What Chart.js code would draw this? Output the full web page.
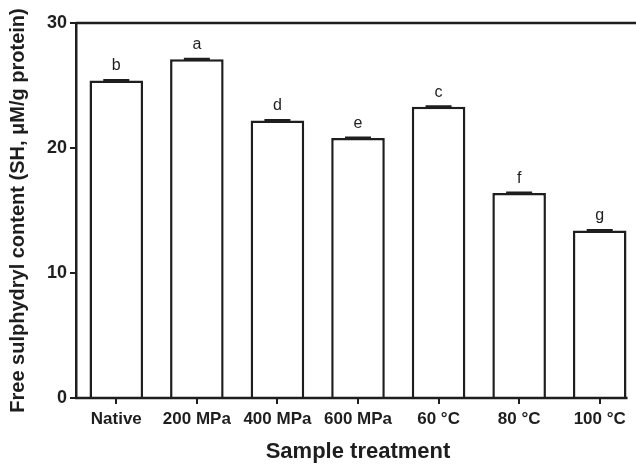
<!DOCTYPE html>
<html>
<head>
<meta charset="utf-8">
<script src="https://cdn.jsdelivr.net/npm/chart.js@4.4.1/dist/chart.umd.min.js"></script>
<style>
  html, body { margin: 0; padding: 0; background: #fff; }
  #wrap { width: 636px; height: 465px; overflow: hidden; }
</style>
</head>
<body>
<div id="wrap"><canvas id="myChart" width="640" height="465"></canvas></div>
<script>
// data
const categories = ['Native', '200 MPa', '400 MPa', '600 MPa', '60 °C', '80 °C', '100 °C'];
const shValues = [25.4, 27.1, 22.2, 20.8, 23.3, 16.4, 13.4];
const shErrors = [0.02, 0.02, 0.02, 0.02, 0.02, 0.02, 0.02];
const sigLetters = ['b', 'a', 'd', 'e', 'c', 'f', 'g'];
const yTicks = [0, 10, 20, 30];

const ink = '#1e1e1e';
const fontFamily = '"Liberation Sans", Arial, Helvetica, sans-serif';

// error caps, letters and the frame lines
const extras = {
  id: 'extras',
  afterDatasetsDraw(chart) {
    const ctx = chart.ctx;
    const y = chart.scales.y;
    const bars = chart.getDatasetMeta(0).data;
    ctx.save();
    ctx.strokeStyle = ink;
    ctx.lineWidth = 2.5;
    bars.forEach((bar, i) => {
      const top = y.getPixelForValue(shValues[i] + shErrors[i]);
      const bot = y.getPixelForValue(shValues[i] - shErrors[i]);
      ctx.beginPath();
      ctx.moveTo(bar.x, bot);
      ctx.lineTo(bar.x, top);
      ctx.moveTo(bar.x - 13, top);
      ctx.lineTo(bar.x + 13, top);
      ctx.stroke();

      ctx.fillStyle = ink;
      ctx.font = '16px ' + fontFamily;
      ctx.textAlign = 'center';
      ctx.textBaseline = 'alphabetic';
      ctx.fillText(sigLetters[i], bar.x, top - 10);
    });

    // top line of the frame and the bottom axis
    const area = chart.chartArea;
    const last = bars[bars.length - 1];
    ctx.lineWidth = 2.5;
    ctx.beginPath();
    ctx.moveTo(area.left, y.getPixelForValue(30));
    ctx.lineTo(chart.width, y.getPixelForValue(30));
    ctx.moveTo(area.left - 1, y.getPixelForValue(0));
    ctx.lineTo(last.x + last.width / 2 + 1, y.getPixelForValue(0));
    ctx.stroke();
    ctx.restore();
  }
};

const data = {
  labels: categories,
  datasets: [{
    data: shValues,
    backgroundColor: '#ffffff',
    borderColor: ink,
    borderWidth: 2.5,
    borderSkipped: 'bottom',
    categoryPercentage: 1,
    barPercentage: 0.665
  }]
};

const config = {
  type: 'bar',
  data: data,
  options: {
    responsive: false,
    animation: false,
    layout: { padding: { top: 23, right: 0, bottom: 0, left: 0 } },
    plugins: {
      legend: { display: false },
      tooltip: { enabled: false }
    },
    scales: {
      x: {
        offset: true,
        grid: {
          display: true,
          offset: false,
          drawOnChartArea: false,
          drawTicks: true,
          tickLength: 6,
          lineWidth: 2,
          color: ink
        },
        border: { display: false },
        ticks: {
          color: ink,
          padding: 5,
          maxRotation: 0,
          autoSkip: false,
          font: { family: fontFamily, size: 17, weight: 'bold' }
        },
        title: {
          display: true,
          text: 'Sample treatment',
          color: ink,
          padding: { top: 0, bottom: 0 },
          font: { family: fontFamily, size: 22, weight: 'bold' }
        },
        afterFit(scale) { scale.height = 67; }
      },
      y: {
        min: 0,
        max: 30,
        afterBuildTicks(scale) { scale.ticks = yTicks.map(v => ({ value: v })); },
        grid: {
          display: true,
          drawOnChartArea: false,
          drawTicks: true,
          tickLength: 6,
          lineWidth: 2,
          color: ink
        },
        border: { display: true, color: ink, width: 2.5 },
        ticks: {
          color: ink,
          padding: 3,
          font: { family: fontFamily, size: 18, weight: 'bold' }
        },
        title: {
          display: true,
          text: 'Free sulphydryl content (SH, μM/g protein)',
          color: ink,
          padding: { top: 6, bottom: 0 },
          font: { family: fontFamily, size: 20, weight: 'bold' }
        },
        afterFit(scale) { scale.width = 76; }
      }
    }
  },
  plugins: [extras]
};

const myChart = new Chart(document.getElementById('myChart'), config);
</script>
</body>
</html>
